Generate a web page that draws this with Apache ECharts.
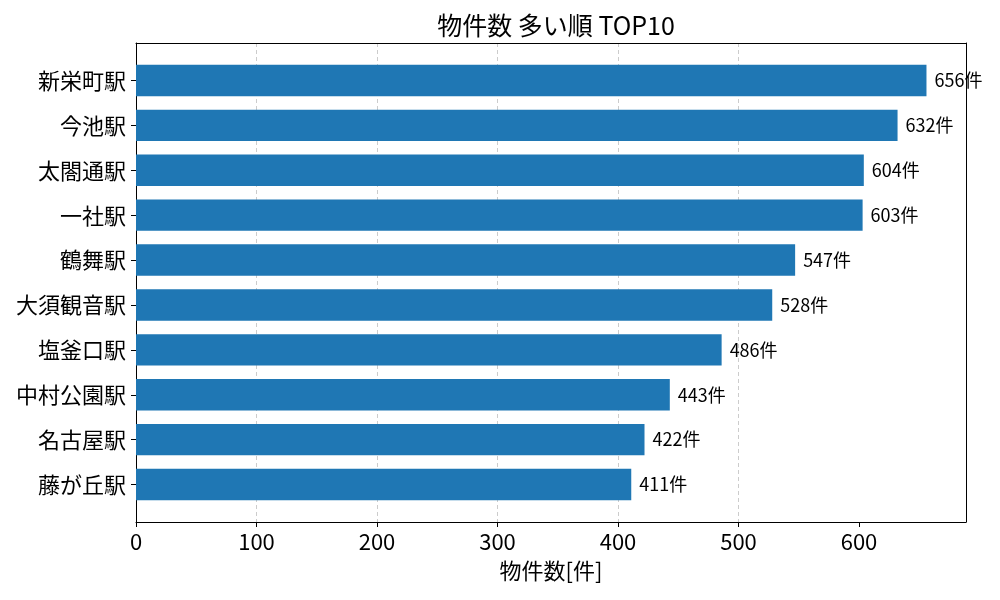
<!DOCTYPE html>
<html>
<head>
<meta charset="utf-8">
<script src="https://cdn.jsdelivr.net/npm/echarts@6/dist/echarts.min.js"></script>
<style>
  html, body { margin: 0; padding: 0; background: #fff; }
  #chart { width: 1000px; height: 600px; }
</style>
</head>
<body>
<div id="chart"></div>
<script>
// 駅名（上から多い順）
const stations = ['新栄町駅', '今池駅', '太閤通駅', '一社駅', '鶴舞駅', '大須観音駅', '塩釜口駅', '中村公園駅', '名古屋駅', '藤が丘駅'];
// 物件数
const counts = [656, 632, 604, 603, 547, 528, 486, 443, 422, 411];
// x軸の目盛り
const xTicks = [0, 100, 200, 300, 400, 500, 600];

const FONT = '"Noto Sans CJK JP", "Noto Sans", sans-serif';
const xMax = 688.8;
// 枠線（onZero だと位置がずれるので切る）
const frameLine = { show: true, onZero: false, lineStyle: { color: '#000', width: 1 } };

const chart = echarts.init(document.getElementById('chart'));

chart.setOption({
  animation: false,
  textStyle: { fontFamily: FONT, color: '#000' },
  title: {
    text: '物件数 多い順 TOP10',
    left: 551,
    top: 8,
    textAlign: 'center',
    textStyle: { fontFamily: FONT, fontSize: 25, fontWeight: 'normal', color: '#000' }
  },
  grid: [
    // 枠と x 軸用
    { left: 136, right: 34, top: 43, bottom: 78 },
    // 棒用（上下に余白）
    { left: 136, right: 34, top: 58, bottom: 93 }
  ],
  xAxis: [
    {
      gridIndex: 0,
      type: 'value',
      position: 'bottom',
      min: 0,
      max: xMax,
      interval: 100,
      name: '物件数[件]',
      nameLocation: 'middle',
      nameGap: 38,
      nameTextStyle: { fontFamily: FONT, fontSize: 22, color: '#000' },
      axisLine: frameLine,
      axisTick: { show: true, length: 5, lineStyle: { color: '#000' }, customValues: xTicks },
      axisLabel: { fontFamily: FONT, fontSize: 22, color: '#000', margin: 9, customValues: xTicks },
      splitLine: { show: true, showMinLine: false, showMaxLine: false, lineStyle: { color: '#cccccc', type: [4, 3], width: 1 } }
    },
    {
      gridIndex: 1,
      type: 'value',
      min: 0,
      max: xMax,
      show: false
    },
    {
      gridIndex: 0,
      type: 'value',
      position: 'top',
      min: 0,
      max: xMax,
      axisLine: frameLine,
      axisTick: { show: false },
      axisLabel: { show: false },
      splitLine: { show: false }
    }
  ],
  yAxis: [
    {
      gridIndex: 1,
      type: 'category',
      data: stations,
      inverse: true,
      axisLine: { show: false },
      axisTick: { show: true, alignWithLabel: true, length: 5, lineStyle: { color: '#000' } },
      axisLabel: { fontFamily: FONT, fontSize: 22, color: '#000', margin: 10 },
      splitLine: { show: false }
    },
    {
      gridIndex: 0,
      type: 'value',
      position: 'left',
      min: 0,
      max: 1,
      axisLine: frameLine,
      axisTick: { show: false },
      axisLabel: { show: false },
      splitLine: { show: false }
    },
    {
      gridIndex: 0,
      type: 'value',
      position: 'right',
      min: 0,
      max: 1,
      axisLine: frameLine,
      axisTick: { show: false },
      axisLabel: { show: false },
      splitLine: { show: false }
    }
  ],
  series: [
    {
      type: 'bar',
      xAxisIndex: 1,
      yAxisIndex: 0,
      data: counts,
      barWidth: '70%',
      itemStyle: { color: '#1f77b4' },
      label: {
        show: true,
        position: 'right',
        distance: 8,
        formatter: p => p.value + '件',
        fontFamily: FONT,
        fontSize: 18,
        color: '#000'
      }
    }
  ]
});
</script>
</body>
</html>
